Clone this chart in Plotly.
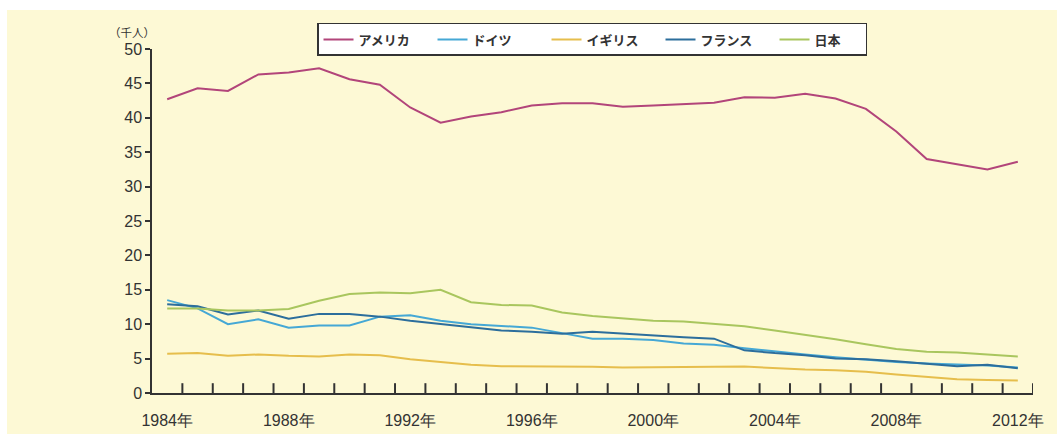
import plotly.graph_objects as go

years = list(range(1984, 2013))

usa = [42.7, 44.3, 43.9, 46.3, 46.6, 47.2, 45.6, 44.8, 41.5, 39.3,
       40.2, 40.8, 41.8, 42.1, 42.1, 41.6, 41.8, 42.0, 42.2, 43.0,
       42.9, 43.5, 42.8, 41.3, 38.0, 34.0, 33.2, 32.5, 33.6]
germany = [13.5, 12.3, 10.0, 10.7, 9.5, 9.8, 9.8, 11.1, 11.3, 10.5,
           10.0, 9.8, 9.5, 8.7, 7.9, 7.9, 7.7, 7.2, 7.0, 6.5,
           6.0, 5.6, 5.2, 4.8, 4.5, 4.3, 4.2, 4.0, 3.7]
uk = [5.7, 5.8, 5.4, 5.6, 5.4, 5.3, 5.6, 5.5, 4.9, 4.5,
      4.1, 3.9, 3.9, 3.8, 3.8, 3.7, 3.7, 3.75, 3.8, 3.85,
      3.6, 3.4, 3.3, 3.1, 2.7, 2.4, 2.0, 1.9, 1.8]
france = [12.9, 12.6, 11.4, 12.0, 10.8, 11.5, 11.5, 11.1, 10.5, 10.0,
          9.6, 9.1, 8.9, 8.6, 8.9, 8.6, 8.3, 8.1, 7.9, 6.2,
          5.8, 5.5, 5.0, 4.9, 4.6, 4.3, 3.9, 4.1, 3.6]
japan = [12.3, 12.3, 12.0, 12.0, 12.2, 13.4, 14.4, 14.6, 14.5, 15.0,
         13.2, 12.8, 12.7, 11.7, 11.2, 10.9, 10.5, 10.4, 10.1, 9.7,
         9.1, 8.5, 7.8, 7.1, 6.4, 6.0, 5.9, 5.6, 5.3]

names = ["アメリカ", "ドイツ", "イギリス", "フランス", "日本"]
series = [usa, germany, uk, france, japan]
colors = ["#B2457A", "#45A8D5", "#E6BE4C", "#2C6E9C", "#A9C65E"]
legend_widths = [69, 69, 69, 69, 46]

label_years = [1984, 1988, 1992, 1996, 2000, 2004, 2008, 2012]
label_text = [f"{y}年" for y in label_years]
y_ticks = list(range(0, 51, 5))

# year boundaries where the small upward x-axis ticks sit
boundaries = [y + 0.5 for y in range(1984, 2013)]

CREAM = "#FDF9D5"
INK = "#333333"

fig = go.Figure()
for name, vals, col, lw in zip(names, series, colors, legend_widths):
    fig.add_trace(go.Scatter(x=years, y=vals, name=name, mode="lines",
                             line=dict(color=col, width=2), legendwidth=lw))

# small upward tick marks on the x axis between years:
# vertical line markers centred on the axis, lower half clipped by the plot area
fig.add_trace(go.Scatter(
    x=boundaries, y=[0] * len(boundaries), mode="markers",
    marker=dict(symbol="line-ns-open", size=14,
                line=dict(width=2, color=INK), color=INK),
    showlegend=False, hoverinfo="skip", cliponaxis=True,
))

tickfont = dict(family="Liberation Sans, Arial, sans-serif", size=16, color=INK)

white_strip = dict(type="rect", xref="paper", yref="paper",
                   fillcolor="white", line=dict(width=0), layer="above")

fig.update_layout(
    width=1059, height=434,
    margin=dict(l=152, r=26, t=49, b=41),
    paper_bgcolor=CREAM,
    plot_bgcolor=CREAM,
    showlegend=True,
    legend=dict(
        orientation="h", x=0.1873, y=1.0756, xanchor="left", yanchor="top",
        bgcolor="white", bordercolor=INK, borderwidth=1.5,
        font=dict(family="Noto Sans CJK JP", size=13, color=INK, weight="bold"),
        itemclick=False,
    ),
    shapes=[
        dict(white_strip, x0=-0.2, x1=-0.1646, y0=-0.2, y1=1.2),
        dict(white_strip, x0=-0.2, x1=1.1, y0=1.1134, y1=1.2),
        dict(white_strip, x0=1.0272, x1=1.1, y0=-0.2, y1=1.2),
    ],
    annotations=[dict(text="（千人）", xref="paper", yref="paper",
                      x=-0.0227, y=1.049, xanchor="center", yanchor="middle",
                      showarrow=False,
                      font=dict(family="Noto Sans CJK JP", size=11.5, color=INK))],
    xaxis=dict(
        range=[1983.5, 2012.5], tickmode="array", tickvals=label_years,
        ticktext=label_text, ticks="", automargin=False,
        showgrid=False, zeroline=False, layer="above traces",
        showline=True, linecolor=INK, linewidth=1.5,
        tickfont=tickfont, ticklabelstandoff=12,
    ),
    yaxis=dict(
        range=[0, 50], tickmode="array", tickvals=y_ticks,
        ticks="outside", ticklen=5, tickcolor=INK, tickwidth=1.5,
        showgrid=False, zeroline=False, showline=True, automargin=False,
        linecolor=INK, linewidth=1.5, tickfont=tickfont,
    ),
)

fig.write_html("out.html")
